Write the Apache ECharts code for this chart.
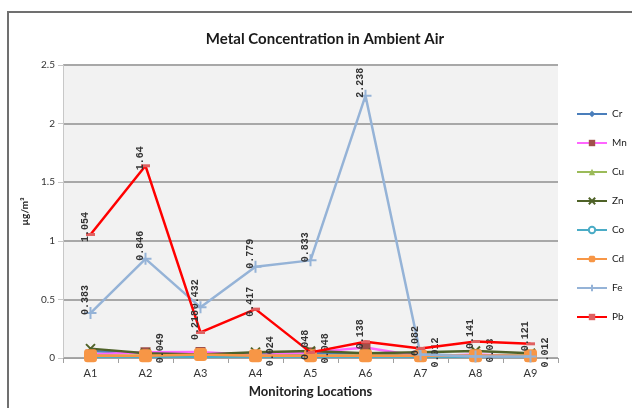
<!DOCTYPE html>
<html><head><meta charset="utf-8">
<script src="https://cdn.jsdelivr.net/npm/echarts@6/dist/echarts.min.js"></script>
<style>html,body{margin:0;padding:0;background:#fff}#c{width:632px;height:408px}</style>
</head><body><div id="c"></div>
<script>
var categories = ['A1','A2','A3','A4','A5','A6','A7','A8','A9'];
var yTicks = [0, 0.5, 1, 1.5, 2, 2.5];
var Cr = [0.06, 0.04, 0.02, 0.03, 0.04, 0.04, 0.03, 0.02, 0.02];
var Mn = [0.03, 0.049, 0.051, 0.024, 0.048, 0.09, 0.012, 0.03, 0.012];
var Cu = [0.02, 0.02, 0.01, 0.02, 0.02, 0.02, 0.02, 0.02, 0.02];
var Zn = [0.08, 0.04, 0.03, 0.05, 0.06, 0.04, 0.05, 0.06, 0.04];
var Co = [0.01, 0.01, 0.01, 0.01, 0.01, 0.01, 0.01, 0.01, 0.01];
var Cd = [0.02, 0.02, 0.03, 0.02, 0.02, 0.02, 0.02, 0.02, 0.02];
var Fe = [0.383, 0.846, 0.432, 0.779, 0.833, 2.238, 0.03, 0.012, 0.012];
var Pb = [1.054, 1.64, 0.218, 0.417, 0.048, 0.138, 0.082, 0.141, 0.121];

var FONT = 'Lato, "Noto Sans", sans-serif';
var chart = echarts.init(document.getElementById('c'));
var lbl = {fontFamily:'"Liberation Mono", monospace', fontSize:10, fontWeight:'bold', color:'#333'};
function s(name, data, color, symbol, size, extra) {
  var o = {name:name, type:'line', data:data, symbol:symbol, symbolSize:size,
    lineStyle:{color:color, width:2.5}, itemStyle:{color:color}, z:2};
  if (extra) for (var k in extra) o[k] = extra[k];
  return o;
}
function L(o){ for (var k in lbl) o[k] = lbl[k]; return o; }
chart.setOption({
  animation:false,
  backgroundColor:'#fff',
  graphic:[{type:'rect', shape:{x:8,y:12,width:640,height:410}, style:{fill:'none', stroke:'#707070', lineWidth:2}, z:-10}],
  title:{text:'Metal Concentration in Ambient Air', left:320, top:27, textAlign:'center',
    textStyle:{fontFamily:FONT, fontSize:15, fontWeight:'bold', color:'#1a1a1a'}},
  legend:{orient:'vertical', left:571, top:104, itemGap:19, itemWidth:30, itemHeight:8,
    textStyle:{fontFamily:FONT, fontSize:10, color:'#222'},
    data:['Cr','Mn','Cu','Zn','Co','Cd','Fe','Pb']},
  grid:{left:63, right:74, top:65, bottom:50, backgroundColor:'#F2F2F2', show:true, borderWidth:0},
  xAxis:{type:'category', data:categories, boundaryGap:true,
    name:'Monitoring Locations', nameLocation:'middle', nameGap:27,
    nameTextStyle:{fontFamily:FONT, fontSize:13, fontWeight:'bold', color:'#222'},
    axisLine:{lineStyle:{color:'#A0A0A0', width:1}},
    axisTick:{show:true, lineStyle:{color:'#A0A0A0'}},
    axisLabel:{fontFamily:FONT, fontSize:11, color:'#333', margin:10}},
  yAxis:{type:'value', min:0, max:2.5, interval:0.5,
    name:'µg/m³', nameLocation:'middle', nameGap:32, nameRotate:90,
    nameTextStyle:{fontFamily:FONT, fontSize:10, fontWeight:'bold', color:'#222'},
    axisLine:{show:true, lineStyle:{color:'#C8C8C8'}},
    axisTick:{show:true, lineStyle:{color:'#C8C8C8'}},
    axisLabel:{fontFamily:FONT, fontSize:10, color:'#333', margin:8,
      formatter:function(v){return yTicks.indexOf(v)>=0 ? String(v) : '';}},
    splitLine:{lineStyle:{color:'#A8A8A8', width:2}}},
  series:[
    s('Cr', Cr, '#4A7EBB', 'diamond', 8),
    s('Mn', Mn, '#FF66FF', 'rect', 10, {itemStyle:{color:'#A0504A'},
      label:L({show:true, position:'bottom', rotate:90, offset:[14,10], formatter:function(p){return p.dataIndex>0 && p.dataIndex!==2 && p.dataIndex!==5 ? String(p.value) : '';}})}),
    s('Cu', Cu, '#9BBB59', 'triangle', 8),
    s('Zn', Zn, '#4F6228', 'path://M0,0 L10,10 M10,0 L0,10', 9, {itemStyle:{color:'#4F6228', borderColor:'#4F6228', borderWidth:2}}),
    s('Co', Co, '#4BACC6', 'emptyCircle', 4),
    s('Cd', Cd, '#F79646', 'roundRect', 13),
    s('Fe', Fe, '#95B3D7', 'path://M5,0 L5,10 M0,5 L10,5', 12, {itemStyle:{color:'#95B3D7', borderColor:'#95B3D7', borderWidth:2}, z:3,
      label:L({show:true, position:'top', rotate:90, distance:6, formatter:function(p){return p.dataIndex<6 ? String(p.value) : '';}})}),
    s('Pb', Pb, '#FF0000', 'rect', [9,3], {itemStyle:{color:'#E06060'}, z:4,
      label:L({show:true, position:'top', rotate:90, distance:6})})
  ]
});
</script></body></html>
